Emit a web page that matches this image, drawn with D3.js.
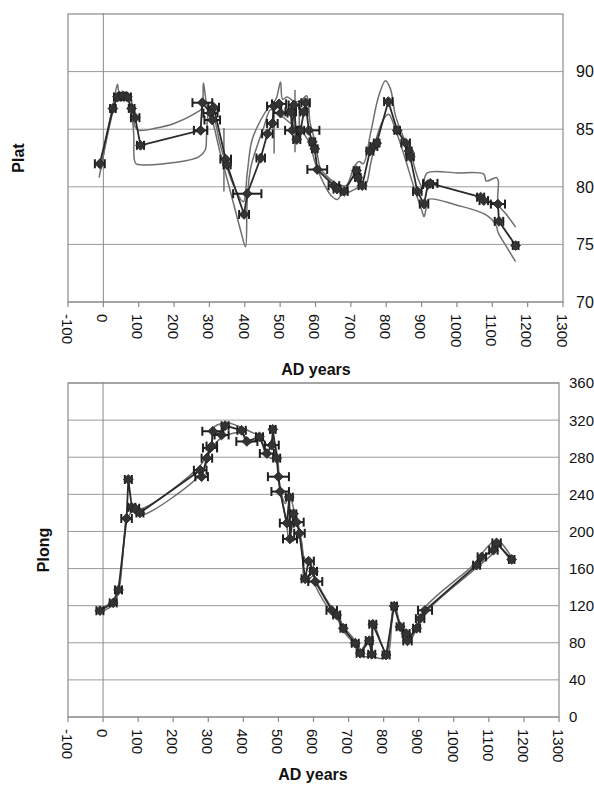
<!DOCTYPE html>
<html>
<head>
<meta charset="utf-8">
<script src="https://cdn.jsdelivr.net/npm/d3@7"></script>
<style>
	body { margin: 0; background: #fff; }
	text { font-family: "Liberation Sans", Arial, sans-serif; fill: #111; }
</style>
</head>
<body>
<div id="chart"></div>
<script>
// tick labels
var yearTicks = [-100, 0, 100, 200, 300, 400, 500, 600, 700, 800, 900, 1000, 1100, 1200, 1300];
var platTicks = [70, 75, 80, 85, 90];
var plongTicks = [0, 40, 80, 120, 160, 200, 240, 280, 320, 360];

// Plat: [year, value, +/- years]
var platMain = [
	[-10, 82.0, 14], [27, 86.8, 8], [40, 87.8, 10], [55, 87.9, 10], [68, 87.8, 10],
	[80, 86.8, 8], [90, 86.0, 12], [105, 83.6, 10], [275, 84.9, 19], [280, 87.3, 28],
	[303, 86.4, 20], [308, 85.8, 22], [312, 86.9, 15], [346, 82.4, 15], [350, 81.9, 10],
	[398, 77.6, 14], [407, 79.4, 40], [445, 82.5, 12], [464, 84.6, 15], [478, 85.5, 15],
	[483, 87.0, 20], [497, 87.2, 20], [501, 86.4, 20], [530, 86.5, 15], [534, 84.9, 20],
	[539, 87.1, 15], [547, 84.1, 10], [558, 84.9, 10], [567, 86.5, 10], [572, 87.3, 12],
	[581, 84.9, 30], [591, 83.9, 8], [598, 83.3, 8], [605, 81.5, 28], [652, 80.1, 15],
	[661, 79.8, 10], [681, 79.6, 10], [716, 81.4, 8], [720, 80.8, 8], [732, 80.1, 10],
	[754, 83.1, 10], [765, 83.5, 10], [773, 83.8, 8], [806, 87.4, 12], [831, 84.9, 8],
	[855, 83.8, 12], [864, 83.1, 8], [868, 82.6, 10], [888, 79.6, 12], [907, 78.5, 12],
	[918, 80.2, 14], [925, 80.3, 20], [1067, 79.1, 10], [1076, 78.8, 12], [1116, 78.5, 20],
	[1119, 77.0, 12], [1166, 74.9, 8]
];
var platUpper = [
	[-6, 81.5], [10, 84.5], [30, 87.5], [40, 88.9], [45, 88.2], [60, 88.2], [75, 88.0],
	[82, 87.0], [90, 85.2], [101, 84.9], [150, 85.1], [200, 85.5], [261, 86.4], [278, 86.8],
	[283, 89.0], [294, 87.0], [310, 86.3], [332, 83.5], [370, 80.0], [396, 78.7], [407, 81.2],
	[420, 84.0], [445, 85.8], [470, 87.0], [488, 87.6], [501, 89.1], [507, 87.6], [520, 87.8],
	[540, 87.4], [560, 87.5], [575, 87.9], [585, 85.5], [600, 83.8], [614, 81.6], [630, 81.0],
	[652, 80.4], [686, 80.1], [709, 81.7], [723, 82.2], [735, 82.0], [756, 84.7], [779, 87.9],
	[798, 89.2], [812, 88.5], [826, 86.2], [845, 84.6], [870, 82.8], [888, 80.9], [902, 80.0],
	[916, 81.2], [1000, 81.2], [1076, 81.1], [1083, 80.5], [1112, 80.8], [1117, 80.5],
	[1117, 78.5], [1140, 77.6], [1166, 76.5]
];
var platLower = [
	[-12, 80.8], [5, 83.5], [25, 86.3], [35, 87.4], [50, 87.5], [70, 87.4], [80, 86.3],
	[86, 84.5], [87, 82.5], [92, 82.0], [110, 81.9], [200, 82.1], [270, 82.6], [288, 83.2],
	[292, 84.6], [297, 86.3], [305, 86.0], [330, 83.0], [360, 79.5], [390, 76.0], [402, 74.8],
	[407, 78.9], [417, 81.7], [440, 84.0], [454, 85.2], [473, 86.7], [490, 86.4], [510, 86.0],
	[530, 85.5], [555, 85.0], [580, 84.0], [600, 82.0], [620, 80.5], [645, 79.2], [662, 78.9],
	[671, 79.2], [700, 79.6], [725, 80.0], [742, 80.2], [756, 82.0], [775, 84.5], [795, 86.0],
	[807, 86.3], [826, 85.0], [850, 82.8], [880, 79.8], [900, 78.0], [907, 77.4], [912, 78.0],
	[918, 78.9], [1000, 78.4], [1080, 77.6], [1110, 76.7], [1117, 76.0], [1140, 74.8], [1166, 73.5]
];
// vertical gray strokes: [year, low, high]
var platSpikes = [[341, 79.6, 85.1], [483, 82.9, 86.1], [542, 83.0, 88.4], [554, 84.0, 87.0]];

// Plong: [year, value, +/- years]
var plongMain = [
	[-9, 114.6, 10], [29, 123, 10], [44, 137, 10], [67, 214, 15], [72, 256, 10],
	[82, 226, 10], [91, 225, 12], [105, 220, 10], [277, 266, 18], [281, 259, 18],
	[296, 279, 15], [305, 290, 20], [310, 292, 15], [313, 308, 30], [338, 304, 20],
	[348, 314, 10], [395, 309, 12], [410, 297, 30], [446, 302, 10], [467, 284, 20],
	[481, 293, 20], [484, 310, 8], [495, 279, 10], [500, 259, 30], [505, 243, 25],
	[524, 209, 20], [531, 237, 10], [533, 192, 20], [543, 219, 8], [552, 210, 20],
	[560, 198, 15], [576, 149, 10], [586, 168, 15], [600, 157, 10], [605, 146, 20],
	[652, 115, 15], [666, 110, 10], [685, 95.6, 8], [719, 79.5, 10], [733, 68.7, 10],
	[759, 82.3, 10], [766, 67.6, 10], [769, 100, 10], [807, 66.8, 10], [830, 119.5, 8],
	[847, 97.3, 10], [864, 90, 10], [868, 82, 12], [894, 95.6, 10], [904, 106, 12],
	[918, 115, 20], [1065, 163.6, 10], [1080, 172.6, 12], [1113, 179.8, 12],
	[1122, 187.7, 12], [1165, 169.8, 8]
];
var plongUpper = [
	[-9, 116.5], [29, 126], [44, 140], [60, 190], [67, 220], [75, 228], [105, 224],
	[277, 271], [296, 283], [310, 297], [313, 311], [348, 317], [395, 312], [430, 306],
	[446, 305], [470, 293], [484, 300], [497, 282], [505, 247], [520, 230], [531, 240],
	[545, 222], [560, 202], [576, 170], [586, 171], [605, 149], [652, 118], [666, 113],
	[685, 98], [719, 82], [733, 71], [759, 85], [766, 70], [769, 103], [807, 69],
	[830, 122], [847, 100], [868, 85], [894, 98], [918, 118], [1065, 167], [1080, 176],
	[1122, 190.5], [1165, 172]
];
var plongLower = [
	[-9, 113], [29, 121], [44, 134], [62, 200], [67, 211], [82, 221], [105, 217],
	[277, 261], [296, 275], [305, 286], [338, 301], [395, 306], [410, 295], [446, 299],
	[467, 281], [495, 276], [500, 256], [524, 206], [533, 189], [562, 193], [576, 146],
	[600, 152], [605, 142], [652, 112], [666, 107], [685, 93], [719, 77], [733, 66],
	[766, 65], [807, 64], [830, 117], [868, 80], [918, 112], [1065, 161], [1113, 177],
	[1122, 185], [1165, 167]
];

var svg = d3.select("#chart")
	.append("svg")
	.attr("width", 594)
	.attr("height", 789);

function drawPanel(p) {
	var x = d3.scaleLinear().domain([-100, 1300]).range([p.left, p.right]);
	var y = d3.scaleLinear().domain(p.yDomain).range([p.bottom, p.top]);
	var g = svg.append("g");

	// gridlines
	g.selectAll(".grid")
		.data(p.yTicks)
		.enter()
		.append("line")
		.attr("x1", p.left)
		.attr("x2", p.right)
		.attr("y1", d => y(d))
		.attr("y2", d => y(d))
		.attr("stroke", "#9a9a9a")
		.attr("stroke-width", 1);

	// frame
	g.append("rect")
		.attr("x", p.left)
		.attr("y", p.top)
		.attr("width", p.right - p.left)
		.attr("height", p.bottom - p.top)
		.attr("fill", "none")
		.attr("stroke", "#8a8a8a")
		.attr("stroke-width", 1.2);

	// zero line
	g.append("line")
		.attr("x1", x(0)).attr("x2", x(0))
		.attr("y1", p.top - 1).attr("y2", p.bottom)
		.attr("stroke", "#8a8a8a")
		.attr("stroke-width", 1);

	// x ticks + rotated labels
	g.selectAll(".xtick")
		.data(yearTicks)
		.enter()
		.append("line")
		.attr("x1", d => x(d)).attr("x2", d => x(d))
		.attr("y1", p.bottom).attr("y2", p.bottom + 5)
		.attr("stroke", "#8a8a8a")
		.attr("stroke-width", 1.2);

	g.selectAll(".xlab")
		.data(yearTicks)
		.enter()
		.append("text")
		.attr("transform", d => "translate(" + (x(d) - 1) + "," + (p.bottom + 12) + ") rotate(90)")
		.attr("dy", "0.35em")
		.style("font-size", "15px")
		.style("text-anchor", "start")
		.text(d => d);

	// right value labels
	g.selectAll(".ylab")
		.data(p.yTicks.filter(d => d <= p.maxLabel))
		.enter()
		.append("text")
		.attr("x", p.right + p.labelGap)
		.attr("y", d => y(d))
		.attr("dy", "0.36em")
		.style("font-size", p.labelSize)
		.style("text-anchor", "start")
		.text(d => d);

	// axis titles
	g.append("text")
		.attr("x", p.xTitleX)
		.attr("y", p.xTitleY)
		.style("font-size", "16px")
		.style("font-weight", "bold")
		.style("text-anchor", "middle")
		.text("AD years");

	g.append("text")
		.attr("transform", "translate(" + p.yTitleX + "," + p.yTitleY + ") rotate(-90)")
		.attr("dy", "0.35em")
		.style("font-size", "16px")
		.style("font-weight", "bold")
		.style("text-anchor", "middle")
		.text(p.title);

	// envelope lines
	var env = d3.line()
		.x(d => x(d[0]))
		.y(d => y(d[1]))
		.curve(d3.curveCatmullRom.alpha(0.5));

	[p.upper, p.lower].forEach(arr => {
		g.append("path")
			.attr("d", env(arr))
			.attr("fill", "none")
			.attr("stroke", "#6e6e6e")
			.attr("stroke-width", 1.5);
	});

	g.selectAll(".spike")
		.data(p.spikes)
		.enter()
		.append("line")
		.attr("x1", d => x(d[0])).attr("x2", d => x(d[0]))
		.attr("y1", d => y(d[1])).attr("y2", d => y(d[2]))
		.attr("stroke", "#6e6e6e")
		.attr("stroke-width", 1.5);

	// main line
	var line = d3.line()
		.x(d => x(d[0]))
		.y(d => y(d[1]));

	g.append("path")
		.attr("d", line(p.main))
		.attr("fill", "none")
		.attr("stroke", "#2b2b2b")
		.attr("stroke-width", 1.8);

	// error bars
	var eb = g.selectAll(".eb")
		.data(p.main)
		.enter()
		.append("g")
		.attr("stroke", "#1e1e1e")
		.attr("stroke-width", 2);

	eb.append("line")
		.attr("x1", d => x(d[0] - d[2]))
		.attr("x2", d => x(d[0] + d[2]))
		.attr("y1", d => y(d[1]))
		.attr("y2", d => y(d[1]));
	eb.append("line")
		.attr("x1", d => x(d[0] - d[2]))
		.attr("x2", d => x(d[0] - d[2]))
		.attr("y1", d => y(d[1]) - 4.5)
		.attr("y2", d => y(d[1]) + 4.5);
	eb.append("line")
		.attr("x1", d => x(d[0] + d[2]))
		.attr("x2", d => x(d[0] + d[2]))
		.attr("y1", d => y(d[1]) - 4.5)
		.attr("y2", d => y(d[1]) + 4.5);

	// diamond markers
	g.selectAll(".mk")
		.data(p.main)
		.enter()
		.append("path")
		.attr("d", d3.symbol(d3.symbolSquare, 48))
		.attr("transform", d => "translate(" + x(d[0]) + "," + y(d[1]) + ") rotate(45)")
		.attr("fill", "#333")
		.attr("stroke", "#222")
		.attr("stroke-width", 0.8);
}

drawPanel({
	left: 68, right: 563, top: 14, bottom: 302,
	yDomain: [70, 95], yTicks: platTicks, maxLabel: 90,
	labelGap: 13, labelSize: "16px",
	main: platMain, upper: platUpper, lower: platLower, spikes: platSpikes,
	title: "Plat", yTitleX: 18, yTitleY: 158,
	xTitleX: 316, xTitleY: 375
});

drawPanel({
	left: 68, right: 559, top: 383, bottom: 717,
	yDomain: [0, 360], yTicks: plongTicks, maxLabel: 360,
	labelGap: 10, labelSize: "15px",
	main: plongMain, upper: plongUpper, lower: plongLower, spikes: [],
	title: "Plong", yTitleX: 43, yTitleY: 550,
	xTitleX: 313, xTitleY: 780
});
</script>
</body>
</html>
